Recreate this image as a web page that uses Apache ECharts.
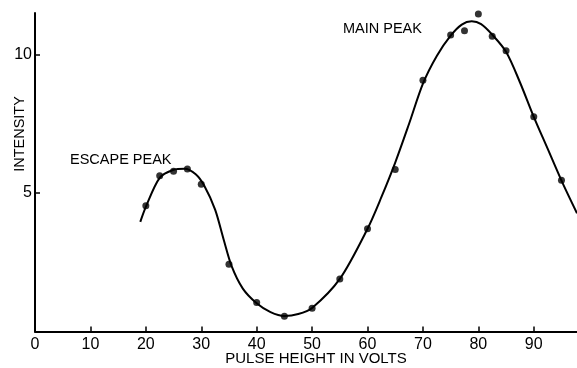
<!DOCTYPE html>
<html>
<head>
<meta charset="utf-8">
<script src="https://cdn.jsdelivr.net/npm/echarts@6/dist/echarts.min.js"></script>
<style>
html,body{margin:0;padding:0;background:#fff;}
#c{width:577px;height:368px;}
</style>
</head>
<body>
<div id="c"></div>
<script>
// Measured points
var pointX = [20, 22.5, 25, 27.5, 30, 35, 40, 45, 50, 55, 60, 65, 70, 75, 77.5, 80, 82.5, 85, 90, 95];
var pointY = [4.54, 5.62, 5.79, 5.87, 5.32, 2.43, 1.05, 0.55, 0.84, 1.90, 3.71, 5.85, 9.07, 10.71, 10.86, 11.46, 10.66, 10.14, 7.75, 5.46];
// Hand-drawn fitted curve
var curveX = [19, 20, 22.5, 25, 27, 29, 30.5, 32.5, 34, 35.5, 37.5, 40, 42.5, 45, 47.5, 50, 55, 60, 62.5, 65, 67.5, 70, 72.5, 75, 77, 78.8, 80.5, 82.5, 85, 87.5, 90, 92.5, 95, 97.8];
var curveY = [3.96, 4.5, 5.55, 5.84, 5.88, 5.68, 5.28, 4.4, 3.35, 2.35, 1.55, 1.02, 0.7, 0.56, 0.63, 0.85, 1.9, 3.71, 4.85, 6.1, 7.5, 8.95, 9.95, 10.68, 11.08, 11.2, 11.1, 10.72, 10.1, 9.0, 7.75, 6.6, 5.45, 4.27];
// Axis ticks
var xTicks = [0, 10, 20, 30, 40, 50, 60, 70, 80, 90];
var yTicks = [5, 10];

var pts = pointX.map(function (x, i) { return [x, pointY[i]]; });
var crv = curveX.map(function (x, i) { return [x, curveY[i]]; });

var font = 'Liberation Sans, Arial, sans-serif';
var chart = echarts.init(document.getElementById('c'), null, {renderer: 'canvas'});
chart.setOption({
  animation: false,
  backgroundColor: '#fff',
  grid: {left: 35, right: 0, top: 13, bottom: 36.5, containLabel: false},
  xAxis: {
    type: 'value', min: 0, max: 97.8,
    axisLine: {show: true, lineStyle: {color: '#000', width: 2}},
    axisTick: {show: true, inside: true, length: 5, lineStyle: {color: '#000', width: 1.5}, customValues: xTicks},
    axisLabel: {color: '#000', fontSize: 16, fontFamily: font, margin: 5, customValues: xTicks},
    splitLine: {show: false}
  },
  yAxis: {
    type: 'value', min: 0, max: 11.5,
    axisLine: {show: true, lineStyle: {color: '#000', width: 2}},
    axisTick: {show: true, inside: true, length: 5, lineStyle: {color: '#000', width: 1.5}, customValues: yTicks},
    axisLabel: {color: '#000', fontSize: 16, fontFamily: font, margin: 3, customValues: yTicks},
    splitLine: {show: false}
  },
  series: [
    {
      type: 'line', data: crv, smooth: 0.3, showSymbol: false,
      lineStyle: {color: '#000', width: 2}, silent: true, clip: false
    },
    {
      type: 'scatter', data: pts, symbol: 'circle', symbolSize: 7,
      itemStyle: {color: '#000'}, silent: true
    }
  ],
  graphic: [
    {type: 'text', left: 70, top: 152, style: {text: 'ESCAPE PEAK', font: '14.5px ' + font, fill: '#000'}},
    {type: 'text', left: 343, top: 21, style: {text: 'MAIN PEAK', font: '14.5px ' + font, fill: '#000'}},
    {type: 'text', x: 20, y: 134, rotation: Math.PI / 2, style: {text: 'INTENSITY', font: '14.5px ' + font, fill: '#000', align: 'center', verticalAlign: 'middle'}},
    {type: 'text', x: 316, y: 359, style: {text: 'PULSE HEIGHT IN VOLTS', font: '15px ' + font, fill: '#000', align: 'center', verticalAlign: 'middle'}}
  ]
});
</script>
</body>
</html>
